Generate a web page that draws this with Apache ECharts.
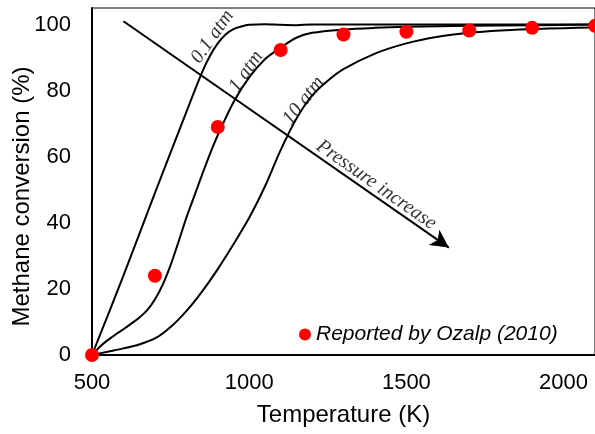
<!doctype html>
<html>
<head>
<meta charset="utf-8">
<script src="https://cdn.jsdelivr.net/npm/echarts@6/dist/echarts.min.js"></script>
<style>
  html, body { margin:0; padding:0; background:#fff; }
  #chart { width:595px; height:434px; }
</style>
</head>
<body>
<div id="chart"></div>
<script>
  // equilibrium curves, temperature (K) vs methane conversion (%)
  const temps01 = [500, 600, 700, 800, 850, 875, 900, 925, 950, 975, 1000, 1050, 1100, 1150, 1200, 1300, 1500, 1700, 1900, 2100];
  const conv01atm = [0, 24, 49, 73.5, 85.5, 90.5, 94.3, 97, 98.6, 99.4, 99.9, 100.1, 99.9, 99.8, 100, 100, 100, 100, 100, 100];
  const temps1 = [500, 525, 550, 575, 600, 625, 650, 675, 700, 725, 750, 775, 800, 825, 850, 875, 900, 950, 1000, 1050, 1100, 1150, 1200, 1300, 1400, 1500, 1700, 1900, 2100];
  const conv1atm = [0, 2.5, 4.5, 6.2, 7.8, 9.5, 11.3, 13.5, 16.8, 21.3, 27.2, 34.2, 41.5, 48, 54.5, 60.8, 66.5, 76.5, 84, 89.5, 93, 96, 97.5, 98.5, 99, 99.3, 99.6, 99.8, 100];
  const temps10 = [500, 550, 600, 650, 700, 750, 800, 850, 900, 950, 1000, 1050, 1100, 1150, 1200, 1250, 1300, 1400, 1500, 1600, 1700, 1800, 1900, 2000, 2100];
  const conv10atm = [0, 1, 2, 3.2, 5, 8.5, 13.3, 19.2, 26, 33.5, 41.5, 51, 62, 71.5, 78.5, 83, 86.5, 91.2, 94.3, 96.3, 97.5, 98.2, 98.6, 98.9, 99.1];

  // Ozalp (2010) reported points
  const ozalpT = [500, 700, 900, 1100, 1300, 1500, 1700, 1900, 2100];
  const ozalpConv = [0, 24, 69, 92.3, 97, 97.8, 98.2, 99, 99.6];

  // in-plot annotations: [T, conv, rotation]
  const curveLabels = ['0.1 atm', '1 atm', '10 atm', 'Pressure increase'];
  const curveLabelPos = [[883, 96.3, 55], [990, 85.8, 55], [1173, 77, 52], [1404, 51.5, -35]];
  const arrowFrom = [600, 101];
  const arrowTo = [1635, 32.5];

  const pairs = (xs, ys) => xs.map((x, i) => [x, ys[i]]);
  const curve = (name, xs, ys) => ({
    name, type: 'line', data: pairs(xs, ys),
    smooth: 0.3, symbol: 'none', silent: true,
    lineStyle: { color: '#000', width: 2 }, z: 2
  });

  const chart = echarts.init(document.getElementById('chart'));
  chart.setOption({
    animation: false,
    grid: {
      left: 92, right: 0, top: 8, bottom: 79, outerBoundsMode: 'none', containLabel: false,
      show: true, borderColor: '#000', borderWidth: 1
    },
    legend: {
      data: ['Reported by Ozalp (2010)'], left: 294, top: 319,
      icon: 'circle', itemWidth: 12, itemHeight: 12, itemGap: 6,
      textStyle: { fontFamily: 'Liberation Sans', fontStyle: 'italic', fontSize: 21, color: '#000' }
    },
    xAxis: {
      type: 'value', min: 500, max: 2100, interval: 500,
      name: 'Temperature (K)', nameLocation: 'middle', nameGap: 48, nameMoveOverlap: false,
      nameTextStyle: { fontFamily: 'Liberation Sans', fontSize: 24, color: '#000' },
      axisLine: { lineStyle: { color: '#000', width: 2 } },
      axisTick: { show: false }, splitLine: { show: false },
      axisLabel: {
        showMaxLabel: false, margin: 17, formatter: v => String(v),
        fontFamily: 'Liberation Sans', fontSize: 22, color: '#000'
      }
    },
    yAxis: {
      type: 'value', min: 0, max: 105, interval: 20,
      name: 'Methane conversion (%)', nameLocation: 'middle', nameGap: 58, nameMoveOverlap: false,
      nameTextStyle: { fontFamily: 'Liberation Sans', fontSize: 24, color: '#000', padding: [0, 30, 0, 0] },
      axisLine: { show: true, lineStyle: { color: '#000', width: 2 } },
      axisTick: { show: false }, splitLine: { show: false },
      axisLabel: {
        showMaxLabel: false, margin: 21, formatter: v => String(v),
        fontFamily: 'Liberation Sans', fontSize: 22, color: '#000'
      }
    },
    series: [
      curve('0.1 atm', temps01, conv01atm),
      curve('1 atm', temps1, conv1atm),
      curve('10 atm', temps10, conv10atm),
      {
        name: 'annotations', type: 'scatter', symbolSize: 0, silent: true, z: 3,
        data: curveLabelPos.map((p, i) => ({
          value: [p[0], p[1]],
          label: {
            show: true, position: 'inside', rotate: p[2], formatter: curveLabels[i],
            fontFamily: 'Liberation Serif', fontStyle: 'italic', fontSize: 20, color: '#000'
          }
        })),
        markLine: {
          silent: true, symbol: ['none', 'arrow'], symbolSize: [14, 18],
          lineStyle: { color: '#000', width: 2, type: 'solid' },
          label: { show: false },
          data: [[{ coord: arrowFrom }, { coord: arrowTo }]]
        }
      },
      {
        name: 'Reported by Ozalp (2010)', type: 'scatter', data: pairs(ozalpT, ozalpConv),
        symbolSize: 14, clip: false, itemStyle: { color: '#ff0000', opacity: 1 }, z: 4
      }
    ]
  });
</script>
</body>
</html>
